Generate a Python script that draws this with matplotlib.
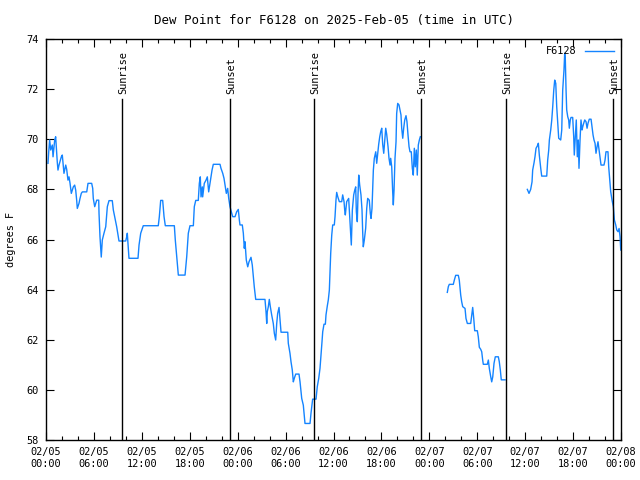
import numpy as np
import matplotlib
matplotlib.use("Agg")
import matplotlib.pyplot as plt
from matplotlib.ticker import MultipleLocator

# hours since 2025-02-05 00:00 UTC, dew point in F
seg1_hours = [0.25, 0.34, 0.46, 0.59, 0.79, 0.88, 1.09, 1.21, 1.29, 1.41, 1.50, 1.63, 1.92, 2.04,
              2.25, 2.47, 2.59, 2.75, 2.88, 3.01, 3.17, 3.42, 3.59, 3.72, 3.84, 3.92, 4.13, 4.26,
              4.42, 4.55, 5.10, 5.26, 5.72, 5.85, 5.92, 6.10, 6.22, 6.35, 6.60, 6.64, 6.76, 6.92,
              7.05, 7.26, 7.48, 7.68, 7.89, 8.30, 8.43, 8.60, 8.85, 9.02, 9.14, 9.98, 10.11, 10.18,
              10.31, 10.39, 11.52, 11.65, 11.86, 12.18, 14.06, 14.19, 14.36, 14.61, 14.78, 14.94,
              16.07, 16.19, 16.37, 16.57, 17.41, 17.62, 17.82, 18.03, 18.45, 18.57, 18.75, 19.07,
              19.20, 19.32, 19.41, 19.57, 19.62, 19.82, 20.04, 20.20, 20.37, 20.54, 20.66, 20.79,
              20.95, 21.79, 21.91, 22.13, 22.29, 22.45, 22.58, 22.75, 22.88, 23.04, 23.20, 23.38,
              23.67, 23.88, 24.08, 24.21, 24.29, 24.58, 24.71, 24.83, 24.92, 25.08, 25.26, 25.42,
              25.67, 25.83, 25.96, 26.08, 26.26, 27.42, 27.55, 27.64, 27.71, 27.84, 27.96, 28.09,
              28.26, 28.46, 28.59, 28.76, 28.89, 29.01, 29.18, 29.30, 29.43, 30.27, 30.34, 30.55,
              30.68, 30.84, 30.97, 31.09, 31.27, 31.68, 31.81, 32.02, 32.22, 32.43, 33.06, 33.18,
              33.39, 33.81, 33.97, 34.15, 34.31, 34.44, 34.56, 34.65, 34.81, 34.98, 35.06, 35.23,
              35.35, 35.48, 35.56, 35.65, 35.78, 35.90, 36.10, 36.19, 36.31, 36.40, 36.53, 36.73,
              37.03, 37.15, 37.32, 37.40, 37.48, 37.65, 37.90, 37.98, 38.15, 38.23, 38.36, 38.53,
              38.66, 38.78, 38.86, 38.98, 39.07, 39.16, 39.28, 39.44, 39.57, 39.66, 39.73, 39.86,
              40.03, 40.16, 40.28, 40.48, 40.61, 40.70, 40.82, 40.91, 40.99, 41.11, 41.29, 41.41,
              41.54, 41.66, 41.79, 41.91, 42.04, 42.16, 42.29, 42.41, 42.54, 42.66, 42.83, 42.95,
              43.08, 43.16, 43.29, 43.41, 43.49, 43.58, 43.70, 43.83, 43.91, 44.04, 44.20, 44.33,
              44.45, 44.54, 44.67, 44.79, 44.92, 45.08, 45.20, 45.33, 45.46, 45.58, 45.74, 45.87,
              45.99, 46.12, 46.24, 46.37, 46.49, 46.62, 46.75, 46.87]
seg1_dewpt = [69.04, 69.5, 69.97, 69.57, 69.77, 69.3, 69.97, 70.1, 69.7, 69.1, 68.77, 68.97, 69.3, 69.37,
              68.64, 68.97, 68.8, 68.37, 68.5, 68.24, 67.84, 68.1, 68.17, 67.97, 67.57, 67.24, 67.44, 67.64,
              67.84, 67.9, 67.9, 68.24, 68.24, 68.04, 67.64, 67.31, 67.44, 67.57, 67.57, 67.04, 66.11, 65.3,
              65.98, 66.25, 66.51, 67.31, 67.55, 67.55, 67.18, 66.91, 66.51, 66.18, 65.94, 65.94, 66.11, 66.25,
              65.65, 65.25, 65.25, 65.78, 66.25, 66.55, 66.55, 66.91, 67.56, 67.56, 66.91, 66.55,
              66.55, 65.98, 65.31, 64.58, 64.58, 65.31, 66.25, 66.55, 66.55, 67.31, 67.56, 67.56,
              68.24, 68.5, 67.7, 68.1, 67.7, 68.24, 68.37, 68.5, 67.9, 68.24, 68.5, 68.77,
              69.0, 69.0, 68.84, 68.64, 68.44, 68.1, 67.84, 68.04, 67.64, 67.31, 67.11, 66.91,
              66.91, 67.11, 67.2, 66.78, 66.58, 66.58, 66.25, 65.65, 65.91, 65.18, 64.91, 65.11,
              65.29, 64.98, 64.51, 64.11, 63.61, 63.61, 63.12, 62.65, 63.12, 63.32, 63.61, 63.32,
              62.99, 62.65, 62.26, 61.99, 62.65, 63.05, 63.29, 62.79, 62.3, 62.3, 61.86, 61.46,
              61.12, 60.79, 60.32, 60.46, 60.63, 60.63, 60.32, 59.66, 59.39, 58.66, 58.66, 59.06,
              59.63, 59.63, 60.13, 60.46, 60.86, 61.39, 61.92, 62.32, 62.62, 62.62, 62.99, 63.36,
              63.59, 63.98, 64.71, 65.45, 66.18, 66.58, 66.58, 66.91, 67.57, 67.88, 67.71, 67.51,
              67.51, 67.78, 67.51, 67.18, 66.98, 67.51, 67.64, 67.18, 66.25, 65.78, 67.18, 67.78,
              67.97, 68.1, 67.11, 66.71, 67.78, 68.57, 68.17, 67.78, 67.18, 66.25, 65.71, 65.98,
              66.45, 67.24, 67.64, 67.57, 67.04, 66.84, 67.24, 68.1, 68.77, 69.24, 69.5, 69.04,
              69.44, 69.8, 70.1, 70.3, 70.44, 69.8, 69.44, 69.9, 70.44, 70.2, 69.7, 69.24,
              68.97, 69.24, 68.9, 67.91, 67.38, 67.97, 69.24, 69.9, 71.03, 71.43, 71.37, 71.17,
              70.97, 70.44, 70.04, 70.44, 70.77, 70.94, 70.7, 70.17, 69.7, 69.5, 69.5, 68.84,
              68.57, 69.64, 68.9, 69.57, 68.57, 69.77, 69.97, 70.1]

seg2_hours = [50.25, 50.38, 50.50, 51.00, 51.13, 51.30, 51.63, 51.75, 51.93, 52.05, 52.18, 52.47, 52.59,
              52.76, 53.18, 53.31, 53.43, 53.56, 53.68, 54.01, 54.13, 54.26, 54.43, 54.56, 54.68, 54.76,
              55.26, 55.39, 55.51, 55.69, 55.81, 55.94, 56.10, 56.26, 56.64, 56.76, 56.89, 57.01, 57.48]
seg2_dewpt = [63.89, 64.12, 64.21, 64.21, 64.38, 64.57, 64.57, 64.38, 63.78, 63.52, 63.32, 63.25, 62.85,
              62.65, 62.65, 62.99, 63.29, 62.85, 62.36, 62.36, 62.12, 61.7, 61.62, 61.52, 61.19, 61.02,
              61.02, 61.19, 60.86, 60.52, 60.32, 60.52, 61.06, 61.32, 61.32, 61.12, 60.79, 60.4, 60.4]

seg3_hours = [60.27, 60.48, 60.69, 60.86, 60.94, 61.11, 61.23, 61.36, 61.52, 61.65, 61.77, 61.95, 62.07,
              62.70, 62.82, 62.95, 63.03, 63.20, 63.33, 63.45, 63.58, 63.70, 63.83, 63.95, 64.08, 64.20,
              64.45, 64.58, 64.70, 64.86, 64.95, 65.03, 65.12, 65.20, 65.33, 65.45, 65.53, 65.65, 65.74,
              65.95, 66.08, 66.15, 66.28, 66.40, 66.53, 66.65, 66.74, 66.87, 66.99, 67.12, 67.21, 67.33,
              67.46, 67.62, 67.75, 67.87, 68.03, 68.25, 68.37, 68.50, 68.62, 68.75, 68.87, 69.00, 69.12,
              69.25, 69.37, 69.50, 69.87, 70.00, 70.12, 70.37, 70.46, 70.59, 70.71, 70.88, 71.04, 71.17,
              71.34, 71.47, 71.63, 71.76, 71.88, 71.97]
seg3_dewpt = [68.0, 67.84, 68.0, 68.3, 68.77, 69.06, 69.3, 69.64, 69.73, 69.84, 69.37, 68.84, 68.53,
              68.53, 69.17, 69.57, 69.97, 70.37, 70.77, 71.3, 71.96, 72.36, 72.23, 71.3, 70.64, 70.04,
              69.97, 70.37, 71.96, 72.76, 73.43, 73.16, 71.96, 71.17, 70.9, 70.77, 70.44, 70.77, 70.87,
              70.87, 70.1, 69.37, 70.1, 70.77, 69.3, 69.97, 68.84, 69.97, 70.77, 70.37, 70.5, 70.64,
              70.77, 70.7, 70.44, 70.64, 70.8, 70.8, 70.5, 70.17, 69.97, 69.84, 69.44, 69.7, 69.9,
              69.57, 69.3, 68.97, 68.97, 69.17, 69.5, 69.5, 68.9, 68.37, 67.91, 67.57, 67.31, 66.78,
              66.58, 66.38, 66.31, 66.44, 66.11, 65.58]

sun_hours = [9.55, 23.06, 33.58, 47.0, 57.63, 71.03]
sun_labels = ["Sunrise", "Sunset", "Sunrise", "Sunset", "Sunrise", "Sunset"]

tick_labels = ["02/05\n00:00", "02/05\n06:00", "02/05\n12:00", "02/05\n18:00",
               "02/06\n00:00", "02/06\n06:00", "02/06\n12:00", "02/06\n18:00",
               "02/07\n00:00", "02/07\n06:00", "02/07\n12:00", "02/07\n18:00",
               "02/08\n00:00"]

plt.rcParams['font.family'] = 'DejaVu Sans Mono'
plt.rcParams['font.size'] = 7.4

fig = plt.figure(figsize=(6.4, 4.8), dpi=100)
ax = fig.add_axes([46/640, 40/480, 575/640, 401/480])

hours = seg1_hours + [np.nan] + seg2_hours + [np.nan] + seg3_hours
dewpt = seg1_dewpt + [np.nan] + seg2_dewpt + [np.nan] + seg3_dewpt
ax.plot(hours, dewpt, color='#1484ff', lw=1.0, label='F6128')

for h, lab in zip(sun_hours, sun_labels):
    ax.plot([h, h], [58, 71.6], color='black', lw=1.0)
    ax.text(h + 0.1, 71.8, lab, rotation=90, ha='center', va='bottom')

ax.set_xlim(0, 72)
ax.set_ylim(58, 74)
ax.set_xticks(range(0, 73, 6))
ax.set_xticklabels(tick_labels)
ax.xaxis.set_minor_locator(MultipleLocator(2))
ax.set_yticks(range(58, 75, 2))
ax.tick_params(which='both', direction='in', top=True, right=True, width=0.8)
ax.tick_params(which='major', length=6, pad=5)
ax.tick_params(which='minor', length=3)
for s in ax.spines.values():
    s.set_linewidth(1.0)

ax.set_title("Dew Point for F6128 on 2025-Feb-05 (time in UTC)", pad=11)
ax.set_ylabel("degrees F", labelpad=8)

leg = ax.legend(loc='upper right', frameon=False, markerfirst=False,
                handlelength=2.8, borderaxespad=0.3, handletextpad=0.8)

fig.savefig("out.png", dpi=100)
